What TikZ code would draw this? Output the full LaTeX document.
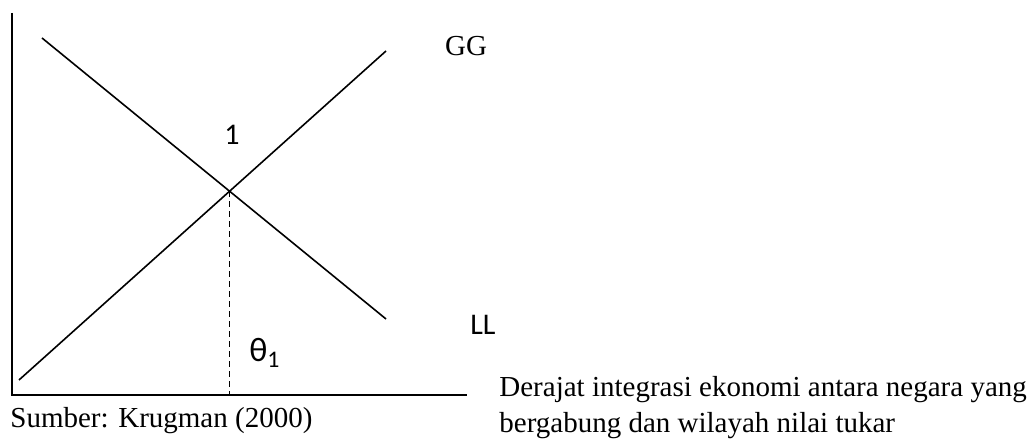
\documentclass[tikz,border=0pt]{standalone}
\usepackage{fontspec}
\setmainfont{Liberation Serif}
\newfontfamily\calibrifont{Carlito}
\usetikzlibrary{positioning}

\begin{document}
\begin{tikzpicture}[
    x=0.5pt, y=0.5pt,
    curve/.style={line width=0.8pt},
    axis/.style={line width=0.9pt},
    guide/.style={line width=0.8pt, dash pattern=on 3pt off 2pt},
    serif/.style={inner sep=0pt, font=\fontsize{14.5}{14.8}\selectfont},
    sans/.style={inner sep=0pt, font=\calibrifont\fontsize{15}{18}\selectfont}
]
\useasboundingbox (0,0) rectangle (1036,442);

\coordinate (origin) at (12,47);
\coordinate (ytop) at (12,429);
\coordinate (xend) at (467,47);

\coordinate (gg-start) at (19,62);
\coordinate (gg-end) at (386,391);
\coordinate (ll-start) at (42,404);
\coordinate (ll-end) at (386,123);
\coordinate (eq) at (intersection of gg-start--gg-end and ll-start--ll-end);

\draw[axis] (ytop) -- (origin) -- (xend);
\draw[curve] (gg-start) -- (gg-end);
\draw[curve] (ll-start) -- (ll-end);
\draw[guide] (eq) -- (eq |- origin);

\node[serif] (gg) at (466,396) {GG};
\node[sans] (ll) at (483,117) {LL};
\node[sans] (pt1) at (232,307) {1};
\node[sans, anchor=base west, font=\calibrifont\fontsize{17}{20}\selectfont] (theta) at (249,80) {θ\textsubscript{1}};

\node[serif, anchor=base west] (source) at (10,14) {Sumber: Krugman (2000)};
\node[serif, anchor=north west, align=left] (xlabel) at (499,66) {Derajat integrasi ekonomi antara negara yang\\[3pt]bergabung dan wilayah nilai tukar};

\end{tikzpicture}
\end{document}
